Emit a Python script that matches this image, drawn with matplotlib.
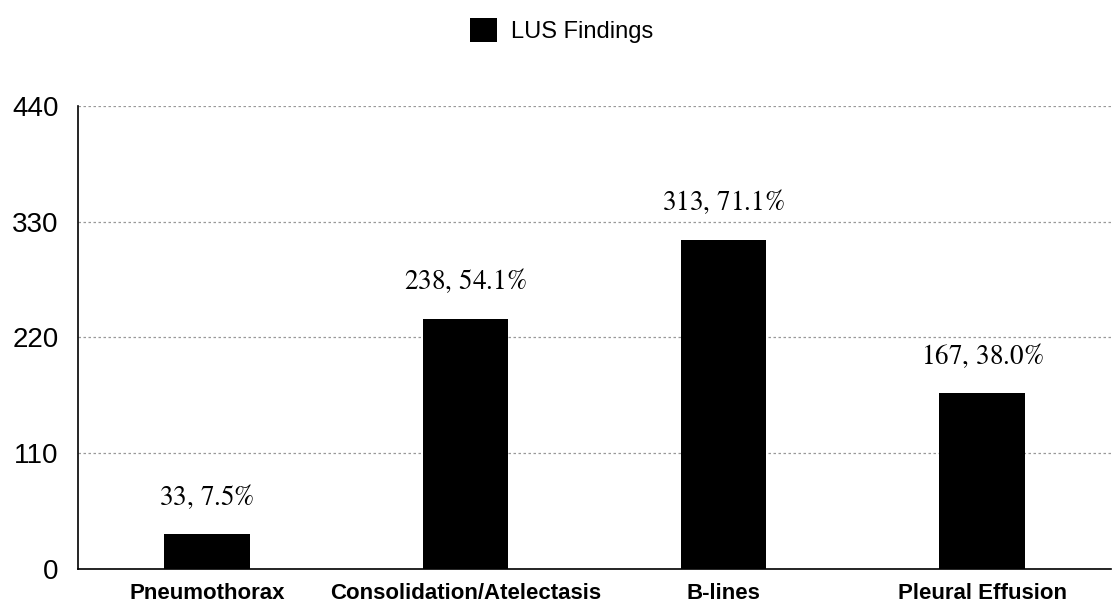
import matplotlib
matplotlib.use("Agg")
import matplotlib.pyplot as plt
import numpy as np

categories = ["Pneumothorax", "Consolidation/Atelectasis", "B-lines", "Pleural Effusion"]
counts = [33, 238, 313, 167]
percents = [7.5, 54.1, 71.1, 38.0]
yticks = [0, 110, 220, 330, 440]

plt.rcParams["mathtext.fontset"] = "stix"
plt.rcParams["font.family"] = ["Liberation Sans", "DejaVu Sans"]

fig = plt.figure(figsize=(11.17, 6.11), dpi=100)
ax = fig.add_axes([0.0698, 0.0687, 0.925, 0.758])

x = np.arange(len(categories))
bars = ax.bar(x, counts, width=0.33, color="black", label="LUS Findings", zorder=3)

for xi, c, p in zip(x, counts, percents):
    ax.annotate(rf"${c},\,{p:.1f}\%$", (xi, c), xytext=(0, 27), textcoords="offset points",
                ha="center", va="center", fontsize=19.5)

ax.set_xlim(-0.5, 3.5)
ax.set_ylim(0, 440)
ax.set_yticks(yticks)
ax.set_xticks(x)
ax.set_xticklabels(categories, fontsize=16, fontweight="bold")
ax.tick_params(axis="y", labelsize=20, length=0, pad=14)
ax.tick_params(axis="x", length=0, pad=10)
ax.yaxis.grid(True, linestyle=(0, (2, 2)), color="#999999", linewidth=0.9, zorder=0)
for s in ["top", "right"]:
    ax.spines[s].set_visible(False)
ax.spines["left"].set_linewidth(1.2)
ax.spines["bottom"].set_linewidth(1.2)

fig.legend(loc="upper center", bbox_to_anchor=(0.503, 1.005), frameon=False, fontsize=17,
           handlelength=1.15, handleheight=1.15, handletextpad=0.6)

fig.savefig("out.png", dpi=100)
